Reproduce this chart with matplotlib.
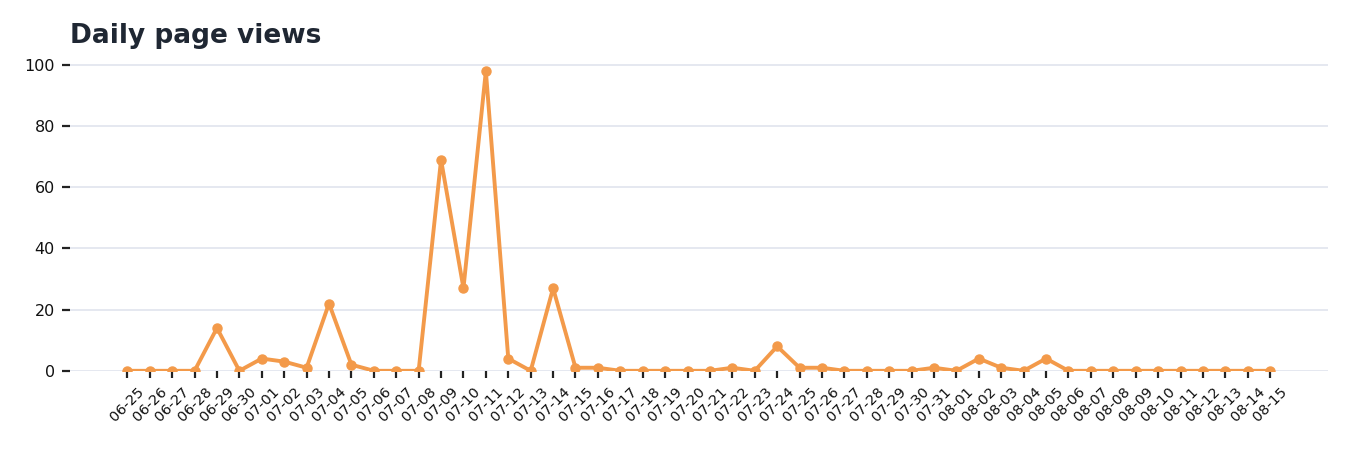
import matplotlib
matplotlib.use("Agg")
import matplotlib.pyplot as plt

dates = ['06-25', '06-26', '06-27', '06-28', '06-29', '06-30',
         '07-01', '07-02', '07-03', '07-04', '07-05', '07-06', '07-07', '07-08',
         '07-09', '07-10', '07-11', '07-12', '07-13', '07-14', '07-15', '07-16',
         '07-17', '07-18', '07-19', '07-20', '07-21', '07-22', '07-23', '07-24',
         '07-25', '07-26', '07-27', '07-28', '07-29', '07-30', '07-31',
         '08-01', '08-02', '08-03', '08-04', '08-05', '08-06', '08-07', '08-08',
         '08-09', '08-10', '08-11', '08-12', '08-13', '08-14', '08-15']
views = [0, 0, 0, 0, 14, 0,
         4, 3, 1, 22, 2, 0, 0, 0,
         69, 27, 98, 4, 0, 27, 1, 1,
         0, 0, 0, 0, 0, 1, 0, 8,
         1, 1, 0, 0, 0, 0, 1,
         0, 4, 1, 0, 4, 0, 0, 0,
         0, 0, 0, 0, 0, 0, 0]

fig, ax = plt.subplots(figsize=(13.5, 4.5), dpi=100)
fig.subplots_adjust(left=0.052, right=0.984, top=0.859, bottom=0.176)

x = range(len(dates))
ax.plot(x, views, color='#f39a4a', linewidth=2.8, marker='o', markersize=6.5,
        zorder=3)

ax.set_xlim(-2.55, len(dates) - 1 + 2.6)
ax.set_ylim(0, 100.5)
ax.set_yticks([0, 20, 40, 60, 80, 100])
ax.set_xticks(list(x))
ax.set_xticklabels(dates, rotation=45, ha='center', fontsize=10.4)
ax.tick_params(axis='y', labelsize=11.5, length=6, width=1.6, color='#222222',
               labelcolor='#111111', pad=5)
ax.tick_params(axis='x', length=5, width=1.6, color='#222222', pad=5,
               labelcolor='#111111')

ax.grid(axis='y', color='#e0e4ee', linewidth=1.2)
ax.set_axisbelow(True)
for s in ax.spines.values():
    s.set_visible(False)

ax.set_title('Daily page views', loc='left', fontsize=19, fontweight='bold',
             color='#1f2733', pad=15)

fig.savefig('out.png')
